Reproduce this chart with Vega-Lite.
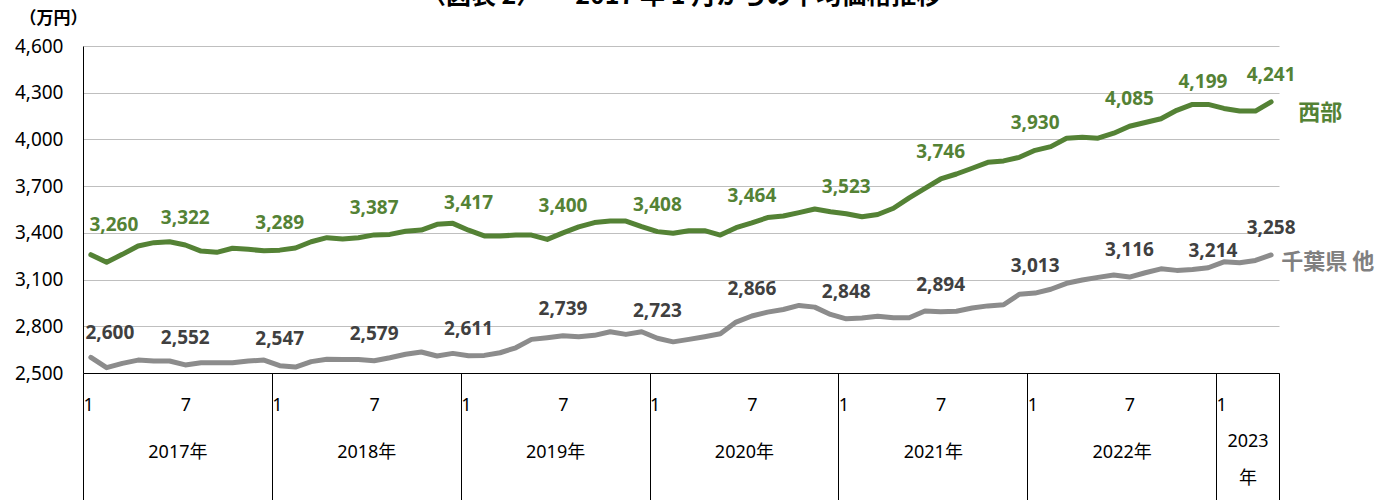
{
  "$schema": "https://vega.github.io/schema/vega-lite/v6.json",
  "width": 1196,
  "height": 327,
  "autosize": {"type": "none"},
  "padding": {"left": 83, "top": 46, "right": 118, "bottom": 127},
  "title": {"text": "〈図表 2〉 — 2017 年 1 月からの平均価格推移", "fontSize": 25, "font": "Noto Sans CJK JP", "fontWeight": "bold", "color": "#000000", "anchor": "middle", "frame": "group", "offset": 0},
  "config": {
    "view": {"stroke": null},
    "font": "Noto Sans, Noto Sans CJK JP, sans-serif",
    "axisY": {"grid": true, "gridColor": "#bfbfbf", "gridWidth": 1, "domainColor": "#000000", "ticks": false, "labelFontSize": 19, "labelColor": "#000000", "labelPadding": 20, "labelFont": "Noto Sans", "titleAngle": 0, "titleX": -30, "titleY": -28, "titleAlign": "center", "titleBaseline": "middle", "titleFontSize": 17, "titleFontWeight": "bold", "titleFont": "Noto Sans CJK JP", "titleColor": "#000000"}
  },
  "data": {"values": [
    {"n":1,"y":2017,"m":1,"west":3260,"chiba":2600},
    {"n":2,"y":2017,"m":2,"west":3211,"chiba":2534},
    {"n":3,"y":2017,"m":3,"west":3262,"chiba":2562},
    {"n":4,"y":2017,"m":4,"west":3316,"chiba":2583},
    {"n":5,"y":2017,"m":5,"west":3337,"chiba":2577},
    {"n":6,"y":2017,"m":6,"west":3343,"chiba":2577},
    {"n":7,"y":2017,"m":7,"west":3322,"chiba":2552},
    {"n":8,"y":2017,"m":8,"west":3283,"chiba":2566},
    {"n":9,"y":2017,"m":9,"west":3275,"chiba":2566},
    {"n":10,"y":2017,"m":10,"west":3301,"chiba":2566},
    {"n":11,"y":2017,"m":11,"west":3294,"chiba":2577},
    {"n":12,"y":2017,"m":12,"west":3285,"chiba":2583},
    {"n":13,"y":2018,"m":1,"west":3289,"chiba":2547},
    {"n":14,"y":2018,"m":2,"west":3303,"chiba":2538},
    {"n":15,"y":2018,"m":3,"west":3343,"chiba":2573},
    {"n":16,"y":2018,"m":4,"west":3369,"chiba":2588},
    {"n":17,"y":2018,"m":5,"west":3360,"chiba":2586},
    {"n":18,"y":2018,"m":6,"west":3369,"chiba":2586},
    {"n":19,"y":2018,"m":7,"west":3387,"chiba":2579},
    {"n":20,"y":2018,"m":8,"west":3390,"chiba":2598},
    {"n":21,"y":2018,"m":9,"west":3410,"chiba":2620},
    {"n":22,"y":2018,"m":10,"west":3418,"chiba":2635},
    {"n":23,"y":2018,"m":11,"west":3455,"chiba":2609},
    {"n":24,"y":2018,"m":12,"west":3461,"chiba":2626},
    {"n":25,"y":2019,"m":1,"west":3417,"chiba":2611},
    {"n":26,"y":2019,"m":2,"west":3380,"chiba":2613},
    {"n":27,"y":2019,"m":3,"west":3380,"chiba":2630},
    {"n":28,"y":2019,"m":4,"west":3386,"chiba":2662},
    {"n":29,"y":2019,"m":5,"west":3386,"chiba":2716},
    {"n":30,"y":2019,"m":6,"west":3358,"chiba":2727},
    {"n":31,"y":2019,"m":7,"west":3400,"chiba":2739},
    {"n":32,"y":2019,"m":8,"west":3438,"chiba":2733},
    {"n":33,"y":2019,"m":9,"west":3466,"chiba":2742},
    {"n":34,"y":2019,"m":10,"west":3476,"chiba":2765},
    {"n":35,"y":2019,"m":11,"west":3476,"chiba":2748},
    {"n":36,"y":2019,"m":12,"west":3440,"chiba":2765},
    {"n":37,"y":2020,"m":1,"west":3408,"chiba":2723},
    {"n":38,"y":2020,"m":2,"west":3397,"chiba":2700},
    {"n":39,"y":2020,"m":3,"west":3414,"chiba":2716},
    {"n":40,"y":2020,"m":4,"west":3414,"chiba":2733},
    {"n":41,"y":2020,"m":5,"west":3386,"chiba":2752},
    {"n":42,"y":2020,"m":6,"west":3433,"chiba":2827},
    {"n":43,"y":2020,"m":7,"west":3464,"chiba":2866},
    {"n":44,"y":2020,"m":8,"west":3498,"chiba":2891},
    {"n":45,"y":2020,"m":9,"west":3508,"chiba":2908},
    {"n":46,"y":2020,"m":10,"west":3530,"chiba":2934},
    {"n":47,"y":2020,"m":11,"west":3553,"chiba":2923},
    {"n":48,"y":2020,"m":12,"west":3536,"chiba":2876},
    {"n":49,"y":2021,"m":1,"west":3523,"chiba":2848},
    {"n":50,"y":2021,"m":2,"west":3503,"chiba":2853},
    {"n":51,"y":2021,"m":3,"west":3518,"chiba":2865},
    {"n":52,"y":2021,"m":4,"west":3558,"chiba":2855},
    {"n":53,"y":2021,"m":5,"west":3625,"chiba":2855},
    {"n":54,"y":2021,"m":6,"west":3686,"chiba":2898},
    {"n":55,"y":2021,"m":7,"west":3746,"chiba":2894},
    {"n":56,"y":2021,"m":8,"west":3778,"chiba":2897},
    {"n":57,"y":2021,"m":9,"west":3815,"chiba":2917},
    {"n":58,"y":2021,"m":10,"west":3853,"chiba":2931},
    {"n":59,"y":2021,"m":11,"west":3862,"chiba":2938},
    {"n":60,"y":2021,"m":12,"west":3885,"chiba":3006},
    {"n":61,"y":2022,"m":1,"west":3930,"chiba":3013},
    {"n":62,"y":2022,"m":2,"west":3954,"chiba":3038},
    {"n":63,"y":2022,"m":3,"west":4008,"chiba":3076},
    {"n":64,"y":2022,"m":4,"west":4014,"chiba":3097},
    {"n":65,"y":2022,"m":5,"west":4008,"chiba":3114},
    {"n":66,"y":2022,"m":6,"west":4040,"chiba":3129},
    {"n":67,"y":2022,"m":7,"west":4085,"chiba":3116},
    {"n":68,"y":2022,"m":8,"west":4109,"chiba":3144},
    {"n":69,"y":2022,"m":9,"west":4133,"chiba":3169},
    {"n":70,"y":2022,"m":10,"west":4187,"chiba":3159},
    {"n":71,"y":2022,"m":11,"west":4225,"chiba":3165},
    {"n":72,"y":2022,"m":12,"west":4225,"chiba":3176},
    {"n":73,"y":2023,"m":1,"west":4199,"chiba":3214},
    {"n":74,"y":2023,"m":2,"west":4182,"chiba":3208},
    {"n":75,"y":2023,"m":3,"west":4182,"chiba":3223},
    {"n":76,"y":2023,"m":4,"west":4241,"chiba":3258}
  ]},
  "resolve": {"axis": {"x": "independent"}},
  "layer": [
    {
      "mark": {"type": "line", "color": "#548235", "strokeWidth": 5, "strokeCap": "round", "strokeJoin": "round"},
      "encoding": {
        "x": {"field": "n", "type": "quantitative", "scale": {"domain": [0.5, 76.5], "nice": false, "zero": false},
          "axis": {"orient": "bottom", "values": [0.5, 12.5, 24.5, 36.5, 48.5, 60.5, 72.5, 76.5], "labels": false, "ticks": true, "tickSize": 127, "tickColor": "#000000", "tickWidth": 1, "domainColor": "#000000", "domainWidth": 1, "grid": false, "title": null}},
        "y": {"field": "west", "type": "quantitative", "scale": {"domain": [2500, 4600], "nice": false, "zero": false}, "axis": {"title": "（万円）", "values": [2500, 2800, 3100, 3400, 3700, 4000, 4300, 4600], "labelExpr": "format(datum.value, ',')", "labelFontSize": 19}}
      }
    },
    {
      "mark": {"type": "line", "color": "#8c8c8c", "strokeWidth": 5, "strokeCap": "round", "strokeJoin": "round"},
      "encoding": {
        "x": {"field": "n", "type": "quantitative", "scale": {"domain": [0.5, 76.5], "nice": false, "zero": false},
          "axis": {"orient": "bottom", "values": [0.5, 7, 12.5, 19, 24.5, 31, 36.5, 43, 48.5, 55, 60.5, 67, 72.5], "labelExpr": "datum.value % 1 != 0 ? '1' : '7'", "labelAlign": {"condition": {"test": "datum.value % 1 != 0", "value": "left"}, "value": "center"}, "labelBaseline": "middle", "labelPadding": 32, "ticks": false, "domain": false, "grid": false, "labelFlush": false, "labelOverlap": false, "labelFontSize": 18, "labelColor": "#000000", "labelFont": "Noto Sans", "title": null}},
        "y": {"field": "chiba", "type": "quantitative", "scale": {"domain": [2500, 4600], "nice": false, "zero": false}, "axis": {"title": "（万円）", "values": [2500, 2800, 3100, 3400, 3700, 4000, 4300, 4600], "labelExpr": "format(datum.value, ',')", "labelFontSize": 19}}
      }
    },
    {
      "transform": [{"filter": "(datum.m == 1 || datum.m == 7 || datum.n == 76) && datum.n != 1 && datum.n != 73"}],
      "mark": {"type": "text", "color": "#548235", "fontWeight": "bold", "fontSize": 19, "dy": -27, "baseline": "middle", "font": "Noto Sans"},
      "encoding": {
        "x": {"field": "n", "type": "quantitative", "scale": {"domain": [0.5, 76.5], "nice": false, "zero": false},
          "axis": {"orient": "bottom", "values": [6.5, 18.5, 30.5, 42.5, 54.5, 66.5, 74.5], "labelExpr": "datum.value > 72 ? ['2023', '年'] : (floor(datum.value / 12) + 2017) + '年'", "labelBaseline": "middle", "labelPadding": {"condition": {"test": "datum.value > 72", "value": 68}, "value": 79}, "labelLineHeight": 37, "ticks": false, "domain": false, "grid": false, "labelFlush": false, "labelOverlap": false, "labelFontSize": 18, "labelColor": "#000000", "labelFont": "Noto Sans, Noto Sans CJK JP", "title": null}},
        "y": {"field": "west", "type": "quantitative", "scale": {"domain": [2500, 4600], "nice": false, "zero": false}, "axis": {"title": "（万円）", "values": [2500, 2800, 3100, 3400, 3700, 4000, 4300, 4600], "labelExpr": "format(datum.value, ',')", "labelFontSize": 19}},
        "text": {"field": "west", "type": "quantitative", "format": ","}
      }
    },
    {
      "transform": [{"filter": "datum.n == 1"}],
      "mark": {"type": "text", "color": "#548235", "fontWeight": "bold", "fontSize": 19, "dy": -30, "dx": 23, "baseline": "middle", "font": "Noto Sans"},
      "encoding": {
        "x": {"field": "n", "type": "quantitative", "scale": {"domain": [0.5, 76.5], "nice": false, "zero": false}, "axis": null},
        "y": {"field": "west", "type": "quantitative", "scale": {"domain": [2500, 4600], "nice": false, "zero": false}, "axis": {"title": "（万円）", "values": [2500, 2800, 3100, 3400, 3700, 4000, 4300, 4600], "labelExpr": "format(datum.value, ',')", "labelFontSize": 19}},
        "text": {"field": "west", "type": "quantitative", "format": ","}
      }
    },
    {
      "transform": [{"filter": "datum.n == 73"}],
      "mark": {"type": "text", "color": "#548235", "fontWeight": "bold", "fontSize": 19, "dy": -26, "dx": -21, "baseline": "middle", "font": "Noto Sans"},
      "encoding": {
        "x": {"field": "n", "type": "quantitative", "scale": {"domain": [0.5, 76.5], "nice": false, "zero": false}, "axis": null},
        "y": {"field": "west", "type": "quantitative", "scale": {"domain": [2500, 4600], "nice": false, "zero": false}, "axis": {"title": "（万円）", "values": [2500, 2800, 3100, 3400, 3700, 4000, 4300, 4600], "labelExpr": "format(datum.value, ',')", "labelFontSize": 19}},
        "text": {"field": "west", "type": "quantitative", "format": ","}
      }
    },
    {
      "transform": [{"filter": "(datum.m == 1 || datum.m == 7 || datum.n == 76) && datum.n != 1 && datum.n != 73"}],
      "mark": {"type": "text", "color": "#404040", "fontWeight": "bold", "fontSize": 19, "dy": -27, "baseline": "middle", "font": "Noto Sans"},
      "encoding": {
        "x": {"field": "n", "type": "quantitative", "scale": {"domain": [0.5, 76.5], "nice": false, "zero": false}, "axis": null},
        "y": {"field": "chiba", "type": "quantitative", "scale": {"domain": [2500, 4600], "nice": false, "zero": false}, "axis": {"title": "（万円）", "values": [2500, 2800, 3100, 3400, 3700, 4000, 4300, 4600], "labelExpr": "format(datum.value, ',')", "labelFontSize": 19}},
        "text": {"field": "chiba", "type": "quantitative", "format": ","}
      }
    },
    {
      "transform": [{"filter": "datum.n == 1"}],
      "mark": {"type": "text", "color": "#404040", "fontWeight": "bold", "fontSize": 19, "dy": -24, "dx": 19, "baseline": "middle", "font": "Noto Sans"},
      "encoding": {
        "x": {"field": "n", "type": "quantitative", "scale": {"domain": [0.5, 76.5], "nice": false, "zero": false}, "axis": null},
        "y": {"field": "chiba", "type": "quantitative", "scale": {"domain": [2500, 4600], "nice": false, "zero": false}, "axis": {"title": "（万円）", "values": [2500, 2800, 3100, 3400, 3700, 4000, 4300, 4600], "labelExpr": "format(datum.value, ',')", "labelFontSize": 19}},
        "text": {"field": "chiba", "type": "quantitative", "format": ","}
      }
    },
    {
      "transform": [{"filter": "datum.n == 73"}],
      "mark": {"type": "text", "color": "#404040", "fontWeight": "bold", "fontSize": 19, "dy": -11, "dx": -11, "baseline": "middle", "font": "Noto Sans"},
      "encoding": {
        "x": {"field": "n", "type": "quantitative", "scale": {"domain": [0.5, 76.5], "nice": false, "zero": false}, "axis": null},
        "y": {"field": "chiba", "type": "quantitative", "scale": {"domain": [2500, 4600], "nice": false, "zero": false}, "axis": {"title": "（万円）", "values": [2500, 2800, 3100, 3400, 3700, 4000, 4300, 4600], "labelExpr": "format(datum.value, ',')", "labelFontSize": 19}},
        "text": {"field": "chiba", "type": "quantitative", "format": ","}
      }
    },
    {
      "transform": [{"filter": "datum.n == 76"}],
      "mark": {"type": "text", "color": "#548235", "fontWeight": "bold", "fontSize": 22, "dx": 27, "dy": 11, "align": "left", "baseline": "middle", "font": "Noto Sans CJK JP"},
      "encoding": {
        "x": {"field": "n", "type": "quantitative", "scale": {"domain": [0.5, 76.5], "nice": false, "zero": false}, "axis": null},
        "y": {"field": "west", "type": "quantitative", "scale": {"domain": [2500, 4600], "nice": false, "zero": false}, "axis": {"title": "（万円）", "values": [2500, 2800, 3100, 3400, 3700, 4000, 4300, 4600], "labelExpr": "format(datum.value, ',')", "labelFontSize": 19}},
        "text": {"value": "西部"}
      }
    },
    {
      "transform": [{"filter": "datum.n == 76"}],
      "mark": {"type": "text", "color": "#808080", "fontWeight": "bold", "fontSize": 22, "dx": 10, "dy": 7, "align": "left", "baseline": "middle", "font": "Noto Sans CJK JP"},
      "encoding": {
        "x": {"field": "n", "type": "quantitative", "scale": {"domain": [0.5, 76.5], "nice": false, "zero": false}, "axis": null},
        "y": {"field": "chiba", "type": "quantitative", "scale": {"domain": [2500, 4600], "nice": false, "zero": false}, "axis": {"title": "（万円）", "values": [2500, 2800, 3100, 3400, 3700, 4000, 4300, 4600], "labelExpr": "format(datum.value, ',')", "labelFontSize": 19}},
        "text": {"value": "千葉県 他"}
      }
    }
  ]
}
